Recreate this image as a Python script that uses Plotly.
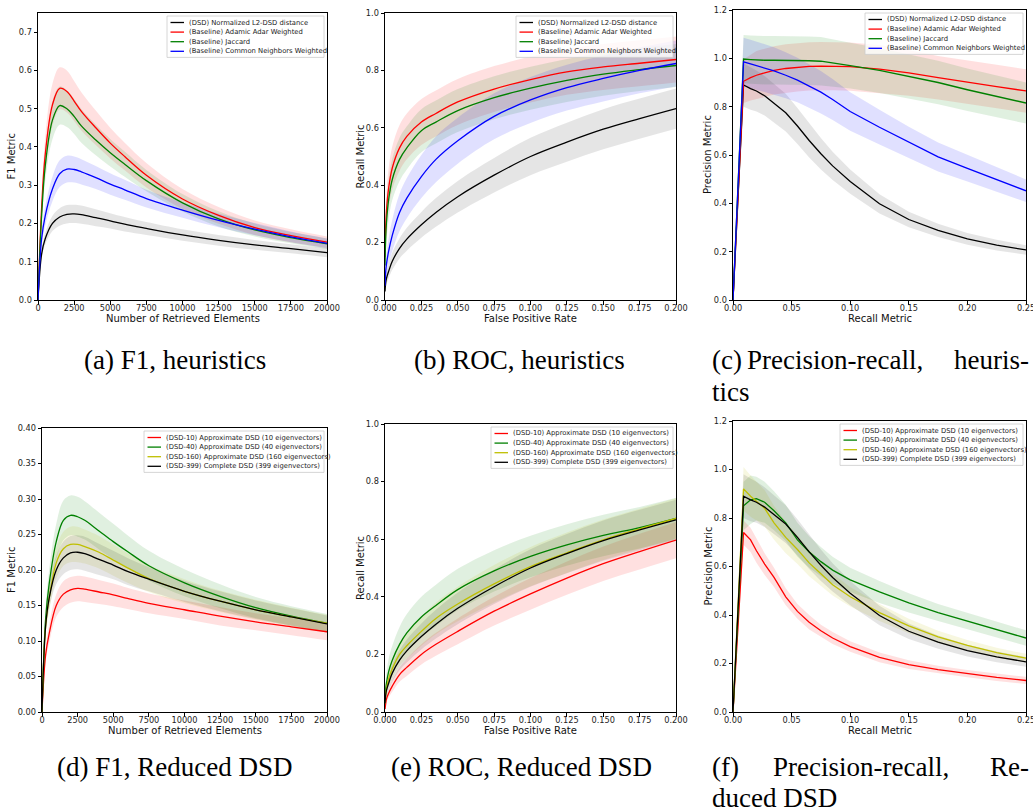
import plotly.graph_objects as go

W, H = 1033, 812

# ---------------- data ----------------
F1_X = [0, 250, 500, 1000, 1500, 2000, 2500, 3000, 4000, 5000, 6000, 7500, 10000, 12500, 15000, 17500, 20000]
ROC_X = [0, 0.0005, 0.001, 0.0025, 0.005, 0.01, 0.015, 0.025, 0.035, 0.05, 0.075, 0.1, 0.125, 0.15, 0.175, 0.2]
PR_X = [0, 0.009, 0.015, 0.02, 0.027, 0.035, 0.045, 0.055, 0.065, 0.075, 0.085, 0.1, 0.125, 0.15, 0.175, 0.2, 0.225, 0.25]

# (a) F1, heuristics
A_DSD = [0, 0.12, 0.16, 0.20, 0.217, 0.224, 0.225, 0.223, 0.215, 0.207, 0.198, 0.187, 0.170, 0.156, 0.144, 0.134, 0.124]
A_DSD_SD = [0, 0.01, 0.015, 0.02, 0.023, 0.024, 0.024, 0.024, 0.022, 0.02, 0.019, 0.017, 0.015, 0.014, 0.013, 0.012, 0.012]
A_ADAMIC = [0, 0.24, 0.38, 0.51, 0.553, 0.545, 0.52, 0.493, 0.45, 0.41, 0.375, 0.326, 0.264, 0.221, 0.189, 0.168, 0.151]
A_ADAMIC_SD = [0, 0.03, 0.045, 0.055, 0.055, 0.055, 0.052, 0.05, 0.045, 0.04, 0.036, 0.032, 0.026, 0.022, 0.019, 0.017, 0.015]
A_JACCARD = [0, 0.22, 0.35, 0.47, 0.508, 0.50, 0.48, 0.455, 0.418, 0.385, 0.355, 0.312, 0.254, 0.212, 0.183, 0.163, 0.147]
A_JACCARD_SD = [0, 0.03, 0.04, 0.05, 0.05, 0.048, 0.046, 0.044, 0.04, 0.036, 0.033, 0.028, 0.023, 0.02, 0.017, 0.015, 0.014]
A_COMMON = [0, 0.16, 0.22, 0.29, 0.33, 0.342, 0.341, 0.335, 0.32, 0.303, 0.288, 0.265, 0.235, 0.208, 0.185, 0.165, 0.148]
A_COMMON_SD = [0, 0.02, 0.025, 0.032, 0.035, 0.035, 0.034, 0.033, 0.03, 0.028, 0.026, 0.023, 0.02, 0.018, 0.016, 0.014, 0.013]

# (b) ROC, heuristics
B_DSD = [0.03, 0.06, 0.075, 0.10, 0.135, 0.18, 0.212, 0.262, 0.305, 0.36, 0.435, 0.50, 0.55, 0.595, 0.632, 0.667]
B_DSD_SD = [0.01, 0.02, 0.02, 0.025, 0.03, 0.035, 0.04, 0.045, 0.05, 0.055, 0.06, 0.065, 0.068, 0.07, 0.07, 0.07]
B_ADAMIC = [0.15, 0.26, 0.31, 0.39, 0.46, 0.53, 0.57, 0.62, 0.65, 0.69, 0.735, 0.768, 0.795, 0.812, 0.825, 0.838]
B_ADAMIC_SD = [0.05, 0.06, 0.065, 0.07, 0.075, 0.08, 0.08, 0.08, 0.08, 0.08, 0.08, 0.08, 0.08, 0.08, 0.08, 0.08]
B_JACCARD = [0.12, 0.22, 0.27, 0.35, 0.42, 0.49, 0.53, 0.59, 0.62, 0.66, 0.705, 0.738, 0.765, 0.787, 0.803, 0.817]
B_JACCARD_SD = [0.05, 0.06, 0.065, 0.07, 0.072, 0.075, 0.075, 0.075, 0.075, 0.075, 0.075, 0.075, 0.075, 0.075, 0.075, 0.075]
B_COMMON = [0.05, 0.10, 0.125, 0.17, 0.225, 0.305, 0.355, 0.43, 0.49, 0.555, 0.64, 0.697, 0.74, 0.772, 0.80, 0.824]
B_COMMON_SD = [0.02, 0.03, 0.035, 0.045, 0.055, 0.065, 0.07, 0.075, 0.08, 0.08, 0.08, 0.08, 0.08, 0.08, 0.08, 0.08]

# (c) Precision-recall, heuristics
C_DSD = [0, 0.89, 0.875, 0.865, 0.845, 0.815, 0.775, 0.72, 0.66, 0.605, 0.555, 0.49, 0.398, 0.333, 0.288, 0.253, 0.227, 0.207]
C_DSD_SD = [0, 0.09, 0.088, 0.085, 0.082, 0.08, 0.078, 0.075, 0.07, 0.065, 0.058, 0.05, 0.04, 0.032, 0.027, 0.024, 0.022, 0.02]
C_ADAMIC = [0, 0.905, 0.92, 0.93, 0.94, 0.95, 0.958, 0.963, 0.967, 0.968, 0.968, 0.966, 0.955, 0.94, 0.92, 0.90, 0.883, 0.865]
C_ADAMIC_SD = [0, 0.09, 0.095, 0.1, 0.1, 0.1, 0.1, 0.1, 0.1, 0.1, 0.1, 0.1, 0.1, 0.095, 0.09, 0.09, 0.09, 0.09]
C_JACCARD = [0, 0.997, 0.995, 0.993, 0.992, 0.992, 0.992, 0.991, 0.99, 0.988, 0.982, 0.97, 0.95, 0.925, 0.90, 0.87, 0.842, 0.815]
C_JACCARD_SD = [0, 0.1, 0.1, 0.1, 0.1, 0.1, 0.1, 0.1, 0.1, 0.1, 0.098, 0.095, 0.093, 0.09, 0.09, 0.088, 0.086, 0.085]
C_COMMON = [0, 0.985, 0.977, 0.97, 0.96, 0.948, 0.93, 0.91, 0.885, 0.86, 0.83, 0.78, 0.715, 0.652, 0.592, 0.545, 0.498, 0.452]
C_COMMON_SD = [0, 0.1, 0.1, 0.1, 0.1, 0.098, 0.095, 0.092, 0.09, 0.088, 0.085, 0.08, 0.072, 0.065, 0.06, 0.055, 0.05, 0.047]

# (d) F1, reduced DSD
D_DSD10 = [0, 0.08, 0.11, 0.15, 0.166, 0.172, 0.174, 0.173, 0.169, 0.165, 0.16, 0.153, 0.144, 0.135, 0.127, 0.12, 0.113]
D_DSD10_SD = [0, 0.01, 0.013, 0.016, 0.018, 0.018, 0.018, 0.018, 0.017, 0.016, 0.015, 0.014, 0.013, 0.013, 0.012, 0.012, 0.012]
D_DSD40 = [0, 0.13, 0.18, 0.24, 0.27, 0.277, 0.275, 0.27, 0.255, 0.24, 0.226, 0.206, 0.182, 0.163, 0.147, 0.135, 0.125]
D_DSD40_SD = [0, 0.015, 0.02, 0.025, 0.028, 0.028, 0.028, 0.027, 0.026, 0.025, 0.023, 0.021, 0.019, 0.017, 0.015, 0.014, 0.013]
D_DSD160 = [0, 0.12, 0.16, 0.21, 0.23, 0.236, 0.236, 0.233, 0.225, 0.214, 0.203, 0.188, 0.17, 0.156, 0.144, 0.134, 0.125]
D_DSD160_SD = [0, 0.013, 0.018, 0.022, 0.024, 0.025, 0.025, 0.024, 0.023, 0.022, 0.021, 0.019, 0.017, 0.015, 0.014, 0.013, 0.012]
D_DSD399 = A_DSD
D_DSD399_SD = A_DSD_SD

# (e) ROC, reduced DSD
E_DSD10 = [0.01, 0.03, 0.045, 0.065, 0.09, 0.13, 0.155, 0.20, 0.235, 0.28, 0.35, 0.41, 0.465, 0.515, 0.557, 0.597]
E_DSD10_SD = [0.005, 0.01, 0.012, 0.015, 0.02, 0.025, 0.03, 0.035, 0.04, 0.045, 0.05, 0.055, 0.058, 0.06, 0.062, 0.063]
E_DSD40 = [0.04, 0.08, 0.10, 0.14, 0.18, 0.235, 0.275, 0.33, 0.37, 0.425, 0.49, 0.54, 0.58, 0.613, 0.64, 0.672]
E_DSD40_SD = [0.02, 0.03, 0.035, 0.045, 0.05, 0.06, 0.065, 0.07, 0.072, 0.072, 0.072, 0.072, 0.072, 0.072, 0.072, 0.072]
E_DSD160 = [0.03, 0.06, 0.08, 0.115, 0.15, 0.20, 0.23, 0.28, 0.325, 0.375, 0.445, 0.505, 0.553, 0.598, 0.636, 0.672]
E_DSD160_SD = [0.01, 0.02, 0.025, 0.03, 0.035, 0.04, 0.045, 0.05, 0.055, 0.06, 0.065, 0.068, 0.07, 0.07, 0.07, 0.07]
E_DSD399 = B_DSD
E_DSD399_SD = B_DSD_SD

# (f) Precision-recall, reduced DSD
F_DSD10 = [0, 0.74, 0.71, 0.665, 0.61, 0.555, 0.475, 0.415, 0.37, 0.335, 0.305, 0.27, 0.225, 0.195, 0.175, 0.158, 0.143, 0.13]
F_DSD10_SD = [0, 0.05, 0.05, 0.05, 0.045, 0.04, 0.035, 0.03, 0.03, 0.025, 0.025, 0.022, 0.02, 0.018, 0.016, 0.015, 0.015, 0.015]
F_DSD40 = [0, 0.85, 0.875, 0.88, 0.865, 0.83, 0.78, 0.71, 0.66, 0.62, 0.585, 0.545, 0.495, 0.45, 0.41, 0.375, 0.34, 0.305]
F_DSD40_SD = [0, 0.1, 0.1, 0.09, 0.085, 0.08, 0.075, 0.07, 0.065, 0.06, 0.055, 0.05, 0.045, 0.04, 0.035, 0.035, 0.035, 0.032]
F_DSD160 = [0, 0.92, 0.89, 0.87, 0.84, 0.78, 0.72, 0.67, 0.615, 0.57, 0.525, 0.475, 0.41, 0.355, 0.31, 0.275, 0.245, 0.222]
F_DSD160_SD = [0, 0.09, 0.085, 0.08, 0.075, 0.07, 0.065, 0.06, 0.055, 0.05, 0.045, 0.04, 0.035, 0.03, 0.025, 0.022, 0.02, 0.018]
F_DSD399 = C_DSD
F_DSD399_SD = C_DSD_SD

HEUR_LABELS = ["(DSD) Normalized L2-DSD distance", "(Baseline) Adamic Adar Weighted",
               "(Baseline) Jaccard", "(Baseline) Common Neighbors Weighted"]
RED_LABELS = ["(DSD-10) Approximate DSD (10 eigenvectors)", "(DSD-40) Approximate DSD (40 eigenvectors)",
              "(DSD-160) Approximate DSD (160 eigenvectors)", "(DSD-399) Complete DSD (399 eigenvectors)"]
HEUR_COLORS = ["#000000", "#ff0000", "#008000", "#0000ff"]
RED_COLORS = ["#ff0000", "#008000", "#bfbf00", "#000000"]

CAPTIONS = ["(a) F1, heuristics", "(b) ROC, heuristics", "(d) F1, Reduced DSD", "(e) ROC, Reduced DSD"]

# ---------------- layout helpers ----------------
def rgba(hex_color, a):
    h = hex_color.lstrip("#")
    return "rgba(%d,%d,%d,%.3f)" % (int(h[0:2], 16), int(h[2:4], 16), int(h[4:6], 16), a)

def px_x(p):
    return p / W

def px_y(p):
    return 1 - p / H

panels = [
    dict(dom=(38, 327, 13, 300), ytx=11, x=F1_X, series=[A_DSD, A_ADAMIC, A_JACCARD, A_COMMON],
         sds=[A_DSD_SD, A_ADAMIC_SD, A_JACCARD_SD, A_COMMON_SD], colors=HEUR_COLORS, labels=HEUR_LABELS, legw=157,
         xr=[0, 20000], xt=list(range(0, 20001, 2500)), xf="d", yr=[0, 0.75], yt=[i / 10 for i in range(8)], yf=".1f",
         xtitle="Number of Retrieved Elements", ytitle="F1 Metric", shape="spline"),
    dict(dom=(385, 676, 13, 300), ytx=360, x=ROC_X, series=[B_DSD, B_ADAMIC, B_JACCARD, B_COMMON],
         sds=[B_DSD_SD, B_ADAMIC_SD, B_JACCARD_SD, B_COMMON_SD], colors=HEUR_COLORS, labels=HEUR_LABELS, legw=157,
         xr=[0, 0.2], xt=[i * 0.025 for i in range(9)], xf=".3f", yr=[0, 1.0], yt=[i * 0.2 for i in range(6)], yf=".1f",
         xtitle="False Positive Rate", ytitle="Recall Metric", shape="spline"),
    dict(dom=(733, 1026, 10, 300), ytx=708, x=PR_X, series=[C_DSD, C_ADAMIC, C_JACCARD, C_COMMON],
         sds=[C_DSD_SD, C_ADAMIC_SD, C_JACCARD_SD, C_COMMON_SD], colors=HEUR_COLORS, labels=HEUR_LABELS, legw=158,
         xr=[0, 0.25], xt=[i * 0.05 for i in range(6)], xf=".2f", yr=[0, 1.2], yt=[i * 0.2 for i in range(7)], yf=".1f",
         xtitle="Recall Metric", ytitle="Precision Metric", shape="linear"),
    dict(dom=(42, 327, 428, 712), ytx=11, x=F1_X, series=[D_DSD10, D_DSD40, D_DSD160, D_DSD399],
         sds=[D_DSD10_SD, D_DSD40_SD, D_DSD160_SD, D_DSD399_SD], colors=RED_COLORS, labels=RED_LABELS, legw=180,
         xr=[0, 20000], xt=list(range(0, 20001, 2500)), xf="d", yr=[0, 0.40], yt=[i * 0.05 for i in range(9)], yf=".2f",
         xtitle="Number of Retrieved Elements", ytitle="F1 Metric", shape="spline"),
    dict(dom=(385, 676, 424, 712), ytx=360, x=ROC_X, series=[E_DSD10, E_DSD40, E_DSD160, E_DSD399],
         sds=[E_DSD10_SD, E_DSD40_SD, E_DSD160_SD, E_DSD399_SD], colors=RED_COLORS, labels=RED_LABELS, legw=182,
         xr=[0, 0.2], xt=[i * 0.025 for i in range(9)], xf=".3f", yr=[0, 1.0], yt=[i * 0.2 for i in range(6)], yf=".1f",
         xtitle="False Positive Rate", ytitle="Recall Metric", shape="spline"),
    dict(dom=(733, 1026, 421, 712), ytx=708, x=PR_X, series=[F_DSD10, F_DSD40, F_DSD160, F_DSD399],
         sds=[F_DSD10_SD, F_DSD40_SD, F_DSD160_SD, F_DSD399_SD], colors=RED_COLORS, labels=RED_LABELS, legw=183,
         xr=[0, 0.25], xt=[i * 0.05 for i in range(6)], xf=".2f", yr=[0, 1.2], yt=[i * 0.2 for i in range(7)], yf=".1f",
         xtitle="Recall Metric", ytitle="Precision Metric", shape="linear"),
]

fig = go.Figure()
shapes = []
annotations = []
TICKFONT = dict(family="DejaVu Sans", size=8.2, color="#222222")
TITLEFONT = dict(family="DejaVu Sans", size=10, color="#111111")
LEGFONT = dict(family="DejaVu Sans", size=6.8, color="#222222")

for i, p in enumerate(panels, start=1):
    xa = "x" if i == 1 else "x%d" % i
    ya = "y" if i == 1 else "y%d" % i
    x0, x1, y0, y1 = p["dom"]
    # bands
    for ys, sd, col in zip(p["series"], p["sds"], p["colors"]):
        lo = [v - s for v, s in zip(ys, sd)]
        hi = [v + s for v, s in zip(ys, sd)]
        fig.add_trace(go.Scatter(x=p["x"], y=lo, mode="lines", line=dict(width=0, shape=p["shape"]),
                                 xaxis=xa, yaxis=ya, showlegend=False, hoverinfo="skip"))
        fig.add_trace(go.Scatter(x=p["x"], y=hi, mode="lines", line=dict(width=0, shape=p["shape"]),
                                 fill="tonexty", fillcolor=rgba(col, 0.12 if col != "#000000" else 0.10),
                                 xaxis=xa, yaxis=ya, showlegend=False, hoverinfo="skip"))
    # lines
    for ys, col, lab in zip(p["series"], p["colors"], p["labels"]):
        fig.add_trace(go.Scatter(x=p["x"], y=ys, mode="lines", name=lab,
                                 line=dict(color=col, width=1.3, shape=p["shape"]),
                                 xaxis=xa, yaxis=ya, showlegend=False))
    axis_common = dict(showgrid=False, zeroline=False, showline=True, linecolor="#000000", linewidth=1,
                       mirror=True, ticks="outside", ticklen=3.5, tickwidth=0.8, tickcolor="#000000",
                       tickfont=TICKFONT, fixedrange=True, automargin=False, ticklabeloverflow="allow")
    fig.layout["xaxis" if i == 1 else "xaxis%d" % i] = dict(
        axis_common, domain=[px_x(x0), px_x(x1)], anchor=ya, range=p["xr"], tickvals=p["xt"],
        tickformat=p["xf"], ticklabelstandoff=-3)
    fig.layout["yaxis" if i == 1 else "yaxis%d" % i] = dict(
        axis_common, domain=[px_y(y1), px_y(y0)], anchor=xa, range=p["yr"], tickvals=p["yt"],
        tickformat=p["yf"])

    # axis titles
    annotations.append(dict(text=p["xtitle"], xref="paper", yref="paper", x=px_x((x0 + x1) / 2),
                            y=px_y(y1 + 18), xanchor="center", yanchor="middle", showarrow=False, font=TITLEFONT))
    annotations.append(dict(text=p["ytitle"], xref="paper", yref="paper", x=px_x(p["ytx"]),
                            y=px_y((y0 + y1) / 2), xanchor="center", yanchor="middle", textangle=-90,
                            showarrow=False, font=TITLEFONT))

    # legend box (top-right, inside axes)
    bw = p["legw"]
    bx1 = x1 - 3
    bx0 = bx1 - bw
    by0 = y0 + 3
    row = 9.6
    by1 = by0 + 4 * row + 3
    shapes.append(dict(type="rect", xref="paper", yref="paper", x0=px_x(bx0), x1=px_x(bx1),
                       y0=px_y(by1), y1=px_y(by0), fillcolor="rgba(255,255,255,0.8)",
                       line=dict(color="#cccccc", width=0.8), layer="above"))
    for k, (lab, col) in enumerate(zip(p["labels"], p["colors"])):
        ry = by0 + 6.5 + k * row
        shapes.append(dict(type="line", xref="paper", yref="paper", x0=px_x(bx0 + 3.5), x1=px_x(bx0 + 17),
                           y0=px_y(ry), y1=px_y(ry), line=dict(color=col, width=1.3), layer="above"))
        annotations.append(dict(text=lab, xref="paper", yref="paper", x=px_x(bx0 + 20), y=px_y(ry),
                                xanchor="left", yanchor="middle", showarrow=False, font=LEGFONT))

# captions
CAPFONT = dict(family="Liberation Serif", size=27, color="#000000")
cap_pos = [(175, 360), (519, 360), (174, 767), (521, 767)]
for txt, (cx, cy) in zip(CAPTIONS, cap_pos):
    annotations.append(dict(text=txt, xref="paper", yref="paper", x=px_x(cx), y=px_y(cy),
                            xanchor="center", yanchor="middle", showarrow=False, font=CAPFONT))
# justified two-line captions
just = [("(c)", 710, 360, "left"), ("Precision-recall,", 745, 360, "left"), ("heuris-", 1031, 360, "right"),
        ("tics", 710, 392, "left"),
        ("(f)", 710, 767, "left"), ("Precision-recall,", 771, 767, "left"), ("Re-", 1031, 767, "right"),
        ("duced DSD", 710, 798, "left")]
for txt, cx, cy, anc in just:
    annotations.append(dict(text=txt, xref="paper", yref="paper", x=px_x(cx), y=px_y(cy),
                            xanchor=anc, yanchor="middle", showarrow=False, font=CAPFONT))

fig.update_layout(width=W, height=H, margin=dict(l=0, r=0, t=0, b=0, autoexpand=False), paper_bgcolor="white",
                  plot_bgcolor="white", showlegend=False, shapes=shapes, annotations=annotations)

fig.write_html("out.html", config={"displayModeBar": False},
               post_script="document.body.style.margin='0';document.body.style.overflow='hidden';")
